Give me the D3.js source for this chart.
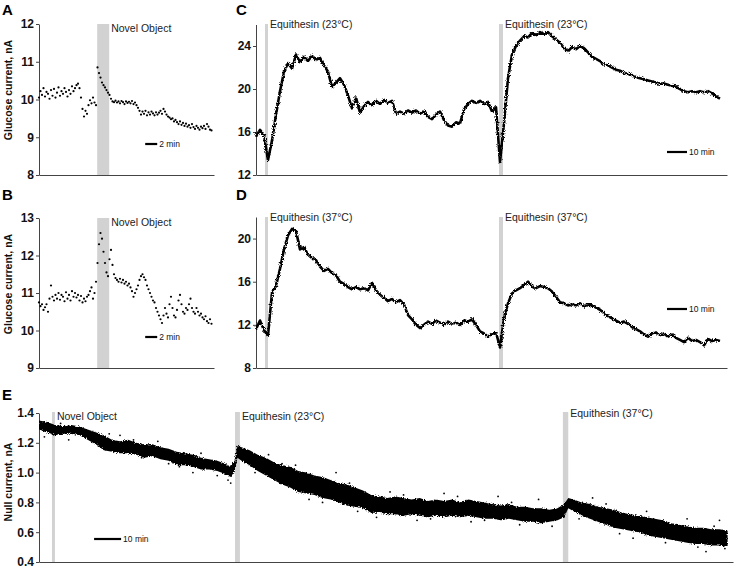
<!DOCTYPE html>
<html><head><meta charset="utf-8">
<script src="https://cdn.jsdelivr.net/npm/d3@7"></script>
<style>body{margin:0;background:#fff}svg{display:block}text{font-family:"Liberation Sans",Arial,sans-serif}</style>
</head><body><svg id="chart" width="737" height="569"></svg>
<script>
// ---------- DATA ----------
const abStep = 0.25; // minutes between samples, panels A and B
const aValues = [10.05,10.22,10.12,10.3,10.08,10.2,10.15,10.02,10.25,10.1,
10.28,10.05,10.18,10.32,10.1,10.22,10.15,10.3,10.2,10.08,
10.25,10.15,10.35,10.22,10.3,10.38,10.42,10.3,10.05,9.75,
9.55,9.7,9.62,9.85,9.98,9.9,10.05,9.92,9.85,10.85,
10.7,10.58,10.45,10.38,10.32,10.25,10.18,10.12,10.02,9.95,
9.93,9.97,9.92,9.95,9.9,9.96,9.93,9.88,9.95,9.91,
9.94,9.9,9.96,9.88,9.92,9.85,9.78,9.7,9.6,9.68,
9.62,9.7,9.58,9.66,9.6,9.68,9.63,9.58,9.66,9.6,
9.65,9.7,9.62,9.75,9.68,9.6,9.55,9.52,9.48,9.5,
9.42,9.46,9.4,9.35,9.42,9.33,9.38,9.3,9.36,9.28,
9.32,9.25,9.35,9.27,9.22,9.3,9.25,9.2,9.28,9.24,
9.3,9.22,9.35,9.28,9.2,9.18];
const bValues = [10.75,10.65,10.7,10.55,10.62,10.7,10.5,10.85,11.2,10.9,
10.8,10.95,10.85,11.0,10.82,10.95,10.9,10.78,11.02,10.85,
10.95,10.8,11.05,10.9,11.0,10.88,10.95,10.8,10.92,10.75,
10.85,10.78,10.9,10.95,11.05,11.15,10.85,11.0,11.3,11.8,
12.3,12.6,12.45,12.1,11.8,11.55,11.45,11.9,12.15,11.75,
11.5,11.4,11.35,11.3,11.38,11.28,11.35,11.25,11.3,11.2,
11.25,11.15,11.05,10.9,11.0,11.1,11.2,11.35,11.45,11.5,
11.42,11.35,11.2,11.1,11.0,10.9,10.8,10.75,10.6,10.5,
10.4,10.3,10.2,10.4,10.6,10.45,10.35,10.7,10.9,10.6,
10.4,10.35,10.55,10.8,10.95,10.7,10.5,10.45,10.6,10.55,
10.7,10.85,10.6,10.5,10.45,10.6,10.5,10.4,10.45,10.35,
10.3,10.38,10.25,10.2,10.3,10.18];
const cdStep = 2; // minutes between samples, panels C and D
const cValues = [15.6,16.2,15.7,13.4,15.2,17.6,19.8,21.6,22.4,21.9,
23.2,22.5,23.0,22.6,23.1,22.7,22.9,22.2,21.6,20.2,
20.6,21.0,20.4,19.4,18.2,19.2,17.8,18.4,18.8,18.5,
18.9,18.6,19.0,18.7,18.9,17.7,17.9,17.7,18.0,17.8,
18.0,17.7,17.9,17.4,17.2,17.6,17.9,17.1,16.6,16.5,
16.9,16.8,18.1,18.6,18.9,18.7,18.9,18.6,18.8,17.9,
18.3,13.2,16.8,21.0,23.2,24.0,24.5,24.9,24.8,25.2,
25.0,25.3,25.1,25.3,24.9,24.6,24.3,23.8,23.5,23.9,
23.7,24.0,23.8,23.4,23.0,22.8,22.6,22.3,22.2,22.0,
21.8,21.7,21.5,21.4,21.3,21.1,21.0,20.9,20.8,20.7,
20.6,20.5,20.5,20.4,20.3,20.2,20.0,19.8,19.7,19.8,
19.7,19.8,19.7,19.8,19.6,19.3,19.1];
const dValues = [11.6,12.4,11.5,11.0,15.0,15.6,17.2,19.0,20.3,20.9,
20.7,19.0,19.2,18.5,18.2,18.0,17.4,17.0,17.2,16.8,
16.6,16.0,15.8,15.5,15.3,15.5,15.3,15.4,15.2,15.9,
15.2,14.8,14.5,14.2,14.4,14.1,14.3,13.9,12.9,12.5,
12.0,11.7,12.0,12.3,12.1,12.4,12.2,12.0,12.3,12.1,
12.2,12.0,12.4,12.3,12.5,12.0,11.4,11.2,10.9,11.2,
11.3,9.9,12.6,14.0,14.9,15.2,15.4,15.7,16.0,15.6,
15.4,15.6,15.5,15.4,15.1,14.6,14.1,14.0,13.8,13.9,
13.8,14.0,13.7,13.9,13.8,13.6,13.4,13.1,12.8,12.6,
12.4,12.2,12.3,12.1,11.8,11.6,11.4,11.1,10.9,11.2,
11.3,11.0,11.2,10.9,11.1,10.8,10.6,10.4,10.8,10.5,
10.6,10.4,10.1,10.7,10.5,10.6,10.5];
const eTime = [0,3,6,9,12,15,18,21,24,27,30,33,36,39,42,45,48,51,54,57,60,63,66,69,
71,72.5,73.5,
75,78,81,84,87,90,93,96,99,102,105,108,111,114,117,120,123,126,129,132,135,138,141,144,147,150,153,156,159,162,165,168,171,174,177,180,183,186,189,192,
194.5,196,198,
201,204,207,210,213,216,219,222,225,228,231,234,237,240,243,246,249,252,255];
const eUpper = [1.35,1.34,1.32,1.31,1.32,1.31,1.29,1.27,1.25,1.22,1.21,1.22,1.20,1.19,1.19,1.17,1.16,1.14,1.13,1.12,1.10,1.09,1.08,1.06,
1.04,1.09,1.18,
1.17,1.15,1.12,1.10,1.07,1.05,1.04,1.01,1.00,0.98,0.97,0.95,0.93,0.92,0.90,0.88,0.85,0.84,0.83,0.84,0.83,0.82,0.83,0.81,0.82,0.81,0.82,0.80,0.82,0.81,0.80,0.79,0.78,0.79,0.77,0.77,0.76,0.76,0.75,0.76,
0.79,0.83,0.82,
0.80,0.79,0.77,0.76,0.75,0.73,0.72,0.71,0.70,0.69,0.68,0.66,0.65,0.64,0.63,0.63,0.62,0.62,0.61];
const eLower = [1.29,1.27,1.25,1.26,1.26,1.25,1.22,1.19,1.15,1.14,1.13,1.13,1.12,1.10,1.11,1.09,1.08,1.05,1.05,1.04,1.02,1.02,1.01,0.99,
0.97,1.01,1.10,
1.08,1.05,1.01,0.98,0.95,0.92,0.90,0.87,0.86,0.85,0.83,0.82,0.80,0.78,0.77,0.76,0.73,0.73,0.72,0.72,0.71,0.72,0.71,0.70,0.71,0.70,0.71,0.70,0.71,0.70,0.69,0.69,0.68,0.69,0.68,0.67,0.67,0.66,0.67,0.68,
0.70,0.76,0.74,
0.71,0.69,0.67,0.65,0.63,0.62,0.61,0.60,0.58,0.57,0.56,0.55,0.54,0.53,0.52,0.52,0.51,0.51,0.50];
const eOutT = [2,11,30,38,44,52,60,66,70,71,85,95,100,110,118,125,130,140,150,160,170,178,185,190,205,215,225,232,240,247,252,254,
8,20,26,35,48,57,64,80,90,105,115,135,145,155,165,175,200,210,220,236,244,250];
const eOutV = [1.24,1.22,1.25,1.10,1.21,1.04,1.13,0.98,0.95,0.93,1.12,1.05,0.82,1.00,0.74,0.70,0.87,0.68,0.86,0.67,0.84,0.65,0.82,0.64,0.83,0.59,0.74,0.53,0.69,0.47,0.68,0.49,
1.33,1.21,1.26,1.22,1.06,1.00,1.07,1.00,1.06,0.80,0.93,0.85,0.69,0.84,0.68,0.80,0.69,0.79,0.56,0.65,0.50,0.64];

const aTicks = [8,9,10,11,12];
const bTicks = [9,10,11,12,13];
const cTicks = [12,16,20,24];
const dTicks = [8,12,16,20];
const eTicks = [0.4,0.6,0.8,1.0,1.2,1.4];
const novelWindow = [9.7, 11.7];
const cdEvents = [[4.5,6],[121.5,123.5]];
const eEvents = [[4.8,5.9],[72.6,74.4],[194,196]];
const cLabels = ["Equithesin (23°C)","Equithesin (23°C)"];
const dLabels = ["Equithesin (37°C)","Equithesin (37°C)"];
const eLabels = ["Novel Object","Equithesin (23°C)","Equithesin (37°C)"];

// ---------- DRAW ----------
const svg = d3.select("#chart");
const GRAY = "#d2d2d2", AX = "#444";

// texture filter: roughens edges of dense traces
const defs = svg.append("defs");
const f = defs.append("filter").attr("id", "rough").attr("x", "-5%").attr("y", "-20%").attr("width", "110%").attr("height", "140%");
f.append("feTurbulence").attr("type", "fractalNoise").attr("baseFrequency", "0.9").attr("numOctaves", 1).attr("seed", 3).attr("result", "n");
f.append("feDisplacementMap").attr("in", "SourceGraphic").attr("in2", "n").attr("scale", 4).attr("xChannelSelector", "R").attr("yChannelSelector", "G");

function axes(x, y, ticks, fmt) {
  const [x0] = x.range();
  const gy = svg.append("g").attr("transform", `translate(${x0},0)`)
    .call(d3.axisLeft(y).tickValues(ticks).tickSize(3).tickSizeOuter(0).tickPadding(2).tickFormat(fmt));
  gy.selectAll("path,line").attr("stroke", AX);
  gy.selectAll("text").attr("font-size", 12).attr("font-weight", "bold").attr("fill", "#111")
    .style("font-family", '"Liberation Sans",Arial,sans-serif');
  const gx = svg.append("g").attr("transform", `translate(0,${y.range()[0]})`)
    .call(d3.axisBottom(x).tickValues([]).tickSizeOuter(0));
  gx.select(".domain").attr("stroke", AX);
}
function band(x, y, t0, t1, top) {
  svg.append("rect").attr("x", x(t0)).attr("width", x(t1) - x(t0))
    .attr("y", top).attr("height", y.range()[0] - top).attr("fill", GRAY);
}
function note(xp, yp, s) {
  svg.append("text").attr("x", xp).attr("y", yp).attr("font-size", 10.5).attr("fill", "#222").text(s);
}
function scaleBar(x, t0, minutes, yp, label) {
  svg.append("line").attr("x1", x(t0)).attr("x2", x(t0 + minutes)).attr("y1", yp).attr("y2", yp)
    .attr("stroke", "#000").attr("stroke-width", 2.2);
  svg.append("text").attr("x", x(t0 + minutes) + 2).attr("y", yp + 3).attr("font-size", 8.5).attr("fill", "#111").text(label);
}
function letter(xp, yp, s) {
  svg.append("text").attr("x", xp).attr("y", yp).attr("font-size", 15).attr("font-weight", "bold").text(s);
}
function ytitle(xp, yp, s) {
  svg.append("text").attr("transform", `translate(${xp},${yp}) rotate(-90)`).attr("text-anchor", "middle")
    .attr("font-size", 10.5).attr("font-weight", "bold").attr("fill", "#111").text(s);
}

// Panel A / B
function dotPanel(values, yDomain, yRange, ticks, title, titleY, letterY, letterS) {
  const x = d3.scaleLinear().domain([0, 175 / 6]).range([39, 214]);
  const y = d3.scaleLinear().domain(yDomain).range(yRange);
  band(x, y, novelWindow[0], novelWindow[1], yRange[1]);
  axes(x, y, ticks, d3.format("d"));
  svg.append("g").selectAll("circle").data(values).join("circle")
    .attr("cx", (d, i) => x(i * abStep)).attr("cy", d => y(d)).attr("r", 1.1).attr("fill", "#000");
  note(x(novelWindow[1]) + 2, yRange[1] + 8, "Novel Object");
  scaleBar(x, 17.7, 2, yRange[0] - 31, "2 min");
  ytitle(12, titleY, title);
  letter(2, letterY, letterS);
}
dotPanel(aValues, [8, 12], [175, 24], aTicks, "Glucose current, nA", 90, 15, "A");
dotPanel(bValues, [9, 13], [368, 218], bTicks, "Glucose current, nA", 284, 200, "B");

// Panel C / D
function linePanel(values, yDomain, yRange, yTop, ticks, labels, noteY, barY, letterY, letterS) {
  const x = d3.scaleLinear().domain([0, 235.5]).range([256, 727]);
  const y = d3.scaleLinear().domain(yDomain).range(yRange);
  cdEvents.forEach(e => band(x, y, e[0], e[1], yTop));
  axes(x, y, ticks, d3.format("d"));
  svg.append("path").datum(values)
    .attr("d", d3.line().x((d, i) => x(i * cdStep)).y(d => y(d)))
    .attr("fill", "none").attr("stroke", "#000").attr("stroke-width", 2.6).attr("stroke-linejoin", "round")
    .attr("filter", "url(#rough)");
  cdEvents.forEach((e, i) => note(x(e[1]) + 2, noteY, labels[i]));
  scaleBar(x, 205.5, 10, barY, "10 min");
  letter(236, letterY, letterS);
}
linePanel(cValues, [12, 26], [175, 24.5], 24, cTicks, cLabels, 28, 152, 15, "C");
linePanel(dValues, [8, 22], [368, 217], 217, dTicks, dLabels, 221, 309, 200, "D");

// Panel E
(function () {
  const x = d3.scaleLinear().domain([0, 257]).range([39, 733]);
  const y = d3.scaleLinear().domain([0.4, 1.4]).range([562, 413]);
  eEvents.forEach(e => band(x, y, e[0], e[1], 412));
  axes(x, y, eTicks, d3.format(".1f"));
  const pts = eTime.map((t, i) => ({t, hi: eUpper[i], lo: eLower[i]}));
  svg.append("path").datum(pts)
    .attr("d", d3.area().x(d => x(d.t)).y0(d => y(d.lo)).y1(d => y(d.hi)))
    .attr("fill", "#000").attr("filter", "url(#rough)");
  svg.append("g").selectAll("circle").data(eOutT).join("circle")
    .attr("cx", d => x(d)).attr("cy", (d, i) => y(eOutV[i])).attr("r", 0.9).attr("fill", "#000");
  eEvents.forEach((e, i) => note(x(e[1]) + 2, i === 2 ? 417 : 420, eLabels[i]));
  scaleBar(x, 20.4, 10, 539, "10 min");
  ytitle(12, 482, "Null current, nA");
  letter(2, 400, "E");
})();
</script></body></html>
